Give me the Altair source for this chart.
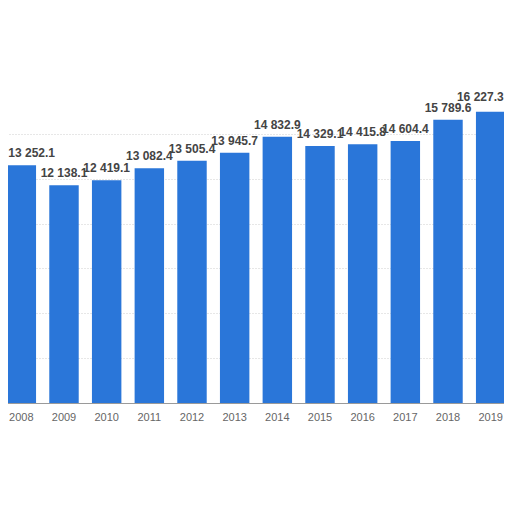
import altair as alt
import pandas as pd

years = ["2008", "2009", "2010", "2011", "2012", "2013", "2014", "2015", "2016", "2017", "2018", "2019"]
values = [13252.1, 12138.1, 12419.1, 13082.4, 13505.4, 13945.7, 14832.9, 14329.1, 14415.8, 14604.4, 15789.6, 16227.3]
labels = ["13 252.1", "12 138.1", "12 419.1", "13 082.4", "13 505.4", "13 945.7",
          "14 832.9", "14 329.1", "14 415.8", "14 604.4", "15 789.6", "16 227.3"]
grid_values = [0, 2500, 5000, 7500, 10000, 12500, 15000]

df = pd.DataFrame({"year": years, "value": values, "label": labels})

x = alt.X("year:N", sort=years,
          scale=alt.Scale(range=[-8, 504], paddingInner=0.31, paddingOuter=0.155),
          axis=alt.Axis(title=None, labelAngle=0, labelColor="#666666", labelFontSize=11,
                        labelFont="Liberation Sans", labelPadding=8, ticks=False,
                        domain=True, domainColor="#9a9a9a", domainWidth=1, grid=False))
y = alt.Y("value:Q", scale=alt.Scale(domain=[0, 17500], nice=False),
          axis=alt.Axis(title=None, values=grid_values, labels=False, ticks=False, domain=False,
                        grid=True, gridColor="#cfcfcf", gridDash=[1, 2], gridWidth=1))

base = alt.Chart(df)
bars = base.mark_bar(color="#2a76d9").encode(x=x, y=y)

text_style = dict(baseline="bottom", font="Liberation Sans", fontSize=12,
                  fontWeight="bold", color="#444444")
enc = dict(x=alt.X("year:N", sort=years), y="value:Q", text="label:N")

first, last = years[0], years[-1]
text_mid = base.transform_filter(
    (alt.datum.year != first) & (alt.datum.year != last)
).mark_text(dy=-5, **text_style).encode(**enc)
text_first = base.transform_filter(alt.datum.year == first).mark_text(
    align="left", dx=-13, dy=-5, **text_style).encode(**enc)
text_last = base.transform_filter(alt.datum.year == last).mark_text(
    align="right", dx=13, dy=-8, **text_style).encode(**enc)

chart = alt.layer(bars, text_mid, text_first, text_last).properties(
    width=496, height=314,
    background="white",
    autosize=alt.AutoSizeParams(type="none"),
    padding={"left": 0, "top": 81, "right": 0, "bottom": 30},
).configure_view(stroke=None)

chart.save("out.html", embed_options={"renderer": "svg", "actions": False})
